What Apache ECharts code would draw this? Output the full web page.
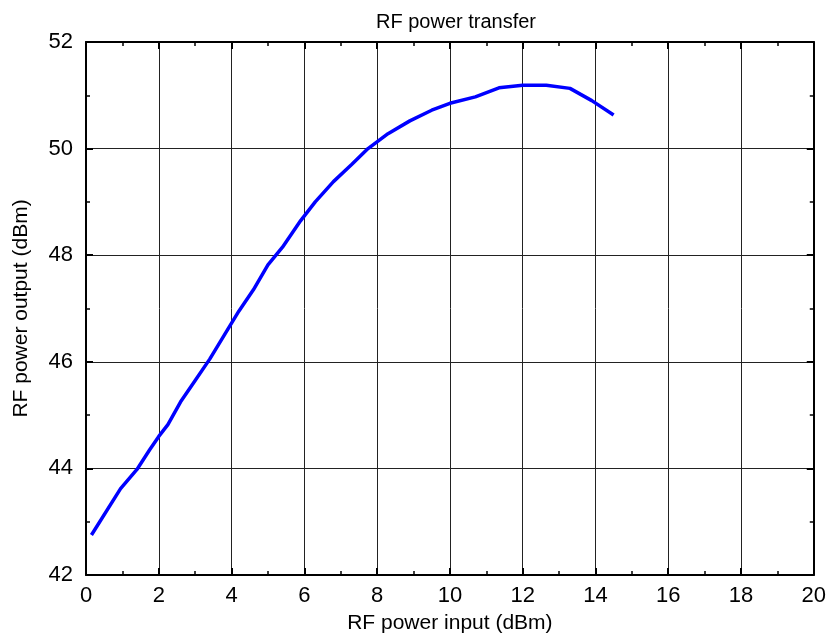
<!DOCTYPE html>
<html><head><meta charset="utf-8">
<script src="https://cdn.jsdelivr.net/npm/echarts@6/dist/echarts.min.js"></script>
<style>html,body{margin:0;padding:0;background:#fff}#c{width:829px;height:639px}</style>
</head><body><div id="c"></div>
<script>
var inputDbm = [0.15,0.95,1.4,1.75,2.0,2.25,2.6,3.0,3.4,3.8,4.2,4.6,5.0,5.4,5.9,6.3,6.8,7.3,7.75,8.3,8.9,9.5,10.0,10.7,11.35,12.0,12.65,13.3,13.9,14.5];
var outputDbm = [42.75,43.62,43.98,44.35,44.6,44.82,45.25,45.65,46.05,46.5,46.95,47.35,47.82,48.15,48.65,49.0,49.38,49.7,50.0,50.28,50.52,50.72,50.85,50.97,51.14,51.19,51.19,51.13,50.9,50.63];
var titleText = 'RF power transfer';
var xName = 'RF power input (dBm)';
var yName = 'RF power output (dBm)';

var font = 'Liberation Sans, Arial, sans-serif';
var chart = echarts.init(document.getElementById('c'));
var data = inputDbm.map(function(x,i){return [x, outputDbm[i]];});
function mirror(pos, min, max, interval){
  return {type:'value', position:pos, min:min, max:max, interval:interval,
    axisLine:{show:true, onZero:false, lineStyle:{color:'#000', width:2}},
    axisTick:{show:true, inside:true, length:7, lineStyle:{color:'#000', width:2}},
    minorTick:{show:true, splitNumber:2, length:4, lineStyle:{color:'#000', width:1.5}},
    axisLabel:{show:false}, splitLine:{show:false}};
}
chart.setOption({
  animation:false,
  backgroundColor:'#fff',
  title:{text:titleText, left:451, top:7, textAlign:'center',
    textStyle:{fontFamily:font, fontSize:20, fontWeight:'normal', color:'#000'}},
  grid:{left:86, right:13, top:42, bottom:60, containLabel:false},
  xAxis:[{
    type:'value', min:0, max:20, interval:2, position:'bottom',
    name:xName, nameLocation:'middle', nameGap:38,
    nameTextStyle:{fontFamily:font, fontSize:21, color:'#000'},
    axisLine:{show:true, onZero:false, lineStyle:{color:'#000', width:2}},
    axisTick:{show:true, inside:true, length:7, lineStyle:{color:'#000', width:2}},
    minorTick:{show:true, splitNumber:2, length:4, lineStyle:{color:'#000', width:1.5}},
    axisLabel:{fontFamily:font, fontSize:22, color:'#000', margin:10},
    splitLine:{show:true, lineStyle:{color:'#222', width:1}}
  }, mirror('top',0,20,2)],
  yAxis:[{
    type:'value', min:42, max:52, interval:2, position:'left',
    name:yName, nameLocation:'middle', nameGap:54, nameRotate:90,
    nameTextStyle:{fontFamily:font, fontSize:21, color:'#000'},
    axisLine:{show:true, onZero:false, lineStyle:{color:'#000', width:2}},
    axisTick:{show:true, inside:true, length:7, lineStyle:{color:'#000', width:2}},
    minorTick:{show:true, splitNumber:2, length:4, lineStyle:{color:'#000', width:1.5}},
    axisLabel:{fontFamily:font, fontSize:22, color:'#000', margin:13},
    splitLine:{show:true, lineStyle:{color:'#222', width:1}}
  }, mirror('right',42,52,2)],
  series:[{
    type:'line', data:data, xAxisIndex:0, yAxisIndex:0,
    showSymbol:false, symbol:'none',
    lineStyle:{color:'#0000ff', width:3.5}
  }]
});
</script></body></html>
